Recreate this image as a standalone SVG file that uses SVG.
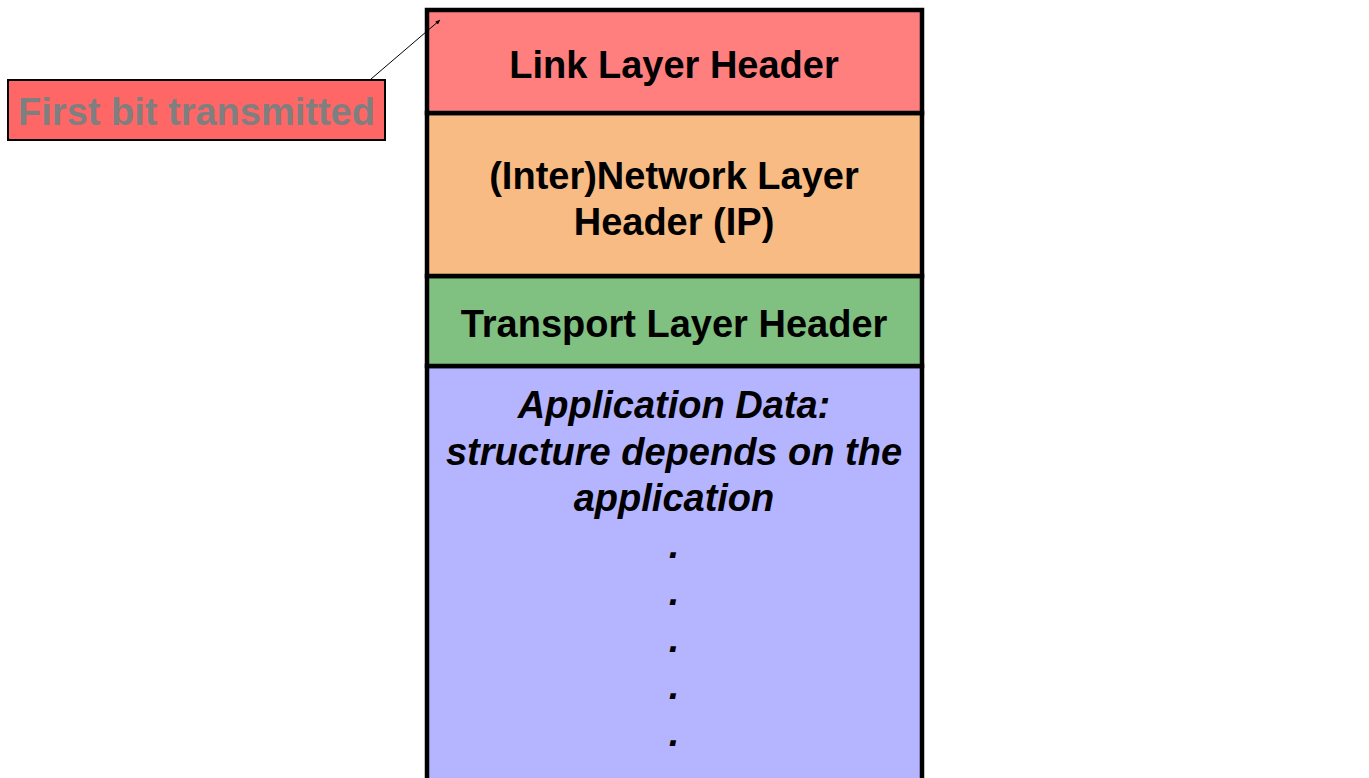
<svg xmlns="http://www.w3.org/2000/svg" width="1369" height="778" viewBox="0 0 1369 778">
<defs>
<style>
.box{stroke:#000;stroke-width:4.5}
.t{font-family:"Liberation Sans",Arial,sans-serif;font-weight:bold;font-size:38px;text-anchor:middle;fill:#000}
.it{font-style:italic}
</style>
<marker id="ah" viewBox="0 0 10 10" refX="9" refY="5" markerWidth="5" markerHeight="5" orient="auto">
<path d="M0,1 L10,5 L0,9 z" fill="#000"/>
</marker>
</defs>
<rect width="1369" height="778" fill="#fff"/>
<g id="app">
<rect class="box" x="427" y="366" width="495" height="430" fill="#B4B4FF"/>
<text class="t it" x="674" y="418">Application Data:</text>
<text class="t it" x="674" y="465">structure depends on the</text>
<text class="t it" x="674" y="511">application</text>
<text class="t it" x="674" y="558">.</text>
<text class="t it" x="674" y="605">.</text>
<text class="t it" x="674" y="652">.</text>
<text class="t it" x="674" y="699">.</text>
<text class="t it" x="674" y="746">.</text>
</g>
<g id="transport">
<rect class="box" x="427" y="276" width="495" height="90" fill="#80C080"/>
<text class="t" x="674" y="337">Transport Layer Header</text>
</g>
<g id="network">
<rect class="box" x="427" y="113" width="495" height="163" fill="#F7BB83"/>
<text class="t" x="674" y="189">(Inter)Network Layer</text>
<text class="t" x="674" y="235">Header (IP)</text>
</g>
<g id="link">
<rect class="box" x="427" y="10" width="495" height="103" fill="#FF7F7F"/>
<text class="t" x="674" y="78">Link Layer Header</text>
</g>
<g id="firstbit">
<rect x="8" y="80" width="377" height="60" fill="#FF6666" stroke="#000" stroke-width="2"/>
<text class="t" x="196.5" y="125" style="fill:#7F7F7F">First bit transmitted</text>
</g>
<g id="connectors">
<line x1="371" y1="79" x2="440" y2="20" stroke="#000" stroke-width="1" marker-end="url(#ah)"/>
</g>
</svg>
